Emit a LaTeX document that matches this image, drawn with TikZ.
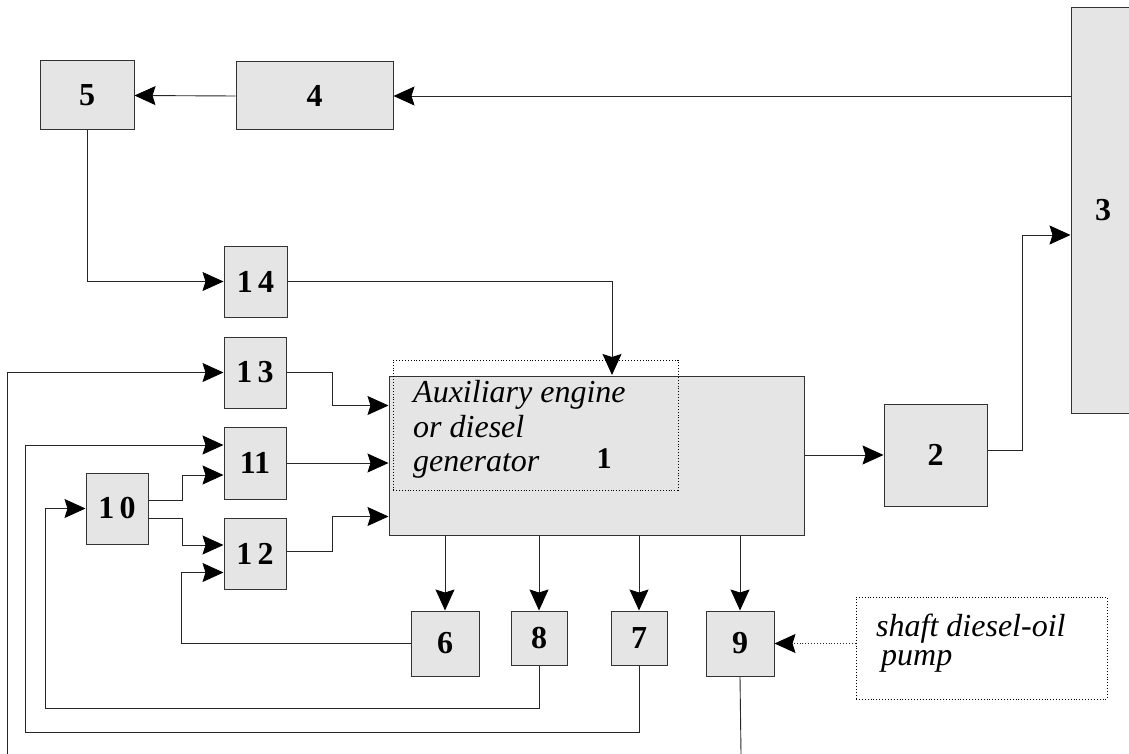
\documentclass[tikz,border=0pt]{standalone}
\usepackage{fontspec}
\setmainfont{Liberation Serif}
\usetikzlibrary{arrows.meta,calc}
\definecolor{boxfill}{HTML}{E5E5E5}
\definecolor{boxline}{HTML}{333333}
\definecolor{lineclr}{HTML}{262626}
\tikzset{
  box/.style={draw=boxline, fill=boxfill, line width=1pt, inner sep=0pt,
    font=\fontsize{32}{34}\selectfont\bfseries},
  dotbox/.style={draw=black, dotted, line width=0.9pt, inner sep=0pt},
  ln/.style={draw=lineclr, line width=0.9pt},
  arr/.style={ln, -{Stealth[length=21pt,width=19pt,inset=3pt,fill=black,color=black]}},
  itxt/.style={inner sep=0pt, font=\fontsize{32}{36}\selectfont\itshape},
}
\begin{document}
\begin{tikzpicture}[x=1pt,y=-1pt]
\useasboundingbox (0,0) rectangle (1129,754);
\clip (0,0) rectangle (1129,754);
% boxes
\node[box,minimum width=94pt,minimum height=69pt] (b5) at (87,95.5) {5};
\node[box,minimum width=157pt,minimum height=68pt] (b4) at (314.5,96) {4};
\node[box,minimum width=64pt,minimum height=405pt] (b3) at (1103,210.5) {3};
\node[box,minimum width=63pt,minimum height=71pt] (b14) at (255.5,281.5) {1\,4};
\node[box,minimum width=62pt,minimum height=71pt] (b13) at (255,372.5) {1\,3};
\node[box,minimum width=62pt,minimum height=72pt] (b11) at (255,463) {11};
\node[box,minimum width=62pt,minimum height=71pt] (b12) at (255,553.5) {1\,2};
\node[box,minimum width=62pt,minimum height=71pt] (b10) at (117,508.5) {1\,0};
\node[box,minimum width=415pt,minimum height=159pt] (b1) at (596.5,455.5) {};
\node[box,minimum width=103pt,minimum height=102pt] (b2) at (935.5,455) {2};
\node[box,minimum width=68pt,minimum height=65pt] (b6) at (445,643.5) {6};
\node[box,minimum width=56pt,minimum height=54pt] (b8) at (539,638) {8};
\node[box,minimum width=56pt,minimum height=54pt] (b7) at (639,638) {7};
\node[box,minimum width=68pt,minimum height=65pt] (b9) at (740,643.5) {9};
% label of main box
\node[dotbox,minimum width=285pt,minimum height=130pt] (lbl) at (535.5,425) {};
\node[itxt,anchor=base west] (ta) at (413,402) {Auxiliary engine};
\node[itxt,anchor=base west] (tb) at (413,437) {or diesel};
\node[itxt,anchor=base west] (tc) at (413,471) {generator};
\node[inner sep=0pt,anchor=base,font=\fontsize{30}{32}\selectfont\bfseries] (n1) at (604,468) {1};
% pump label
\node[dotbox,minimum width=251pt,minimum height=102pt] (pump) at (981.5,648) {};
\node[itxt,anchor=base west] (pa) at (876,636) {shaft diesel-oil};
\node[itxt,anchor=base west] (pb) at (881,665) {pump};
% free ends
\coordinate (in14) at (612,375);
\coordinate (c8) at (45,708);
\coordinate (c7) at (25,732);
\coordinate (src13) at (7,754);
\coordinate (out9) at (741,754);
% connectors
\draw[arr] (b3.west |- b4.east) -- (b4.east);
\draw[arr] (b4.west) -- (b5.east);
\draw[arr] (b5.south) |- (b14.west);
\draw[arr] (b14.east) -| (in14);
\draw[arr] (b13.east) -- ++(46,0) |- ($(b1.north west)+(0,30)$);
\draw[arr] (b11.east) -- (b11.east -| b1.west);
\draw[arr] ($(b12.east)+(0,-2)$) -- ++(46,0) |- ($(b1.north west)+(0,141)$);
\draw[arr] ($(b10.east)+(0,-8)$) -- ++(34,0) |- ($(b11.west)+(0,12)$);
\draw[arr] ($(b10.east)+(0,10)$) -- ++(34,0) |- ($(b12.west)+(0,-8.5)$);
\draw[arr] (b6.west) -| ($(b12.south west)+(-42,-17)$) -- ($(b12.south west)+(0,-17)$);
\draw[arr] (b6.north |- b1.south) -- (b6.north);
\draw[arr] (b8.north |- b1.south) -- (b8.north);
\draw[arr] (b7.north |- b1.south) -- (b7.north);
\draw[arr] (b9.north |- b1.south) -- (b9.north);
\draw[arr] (b8.south) |- (c8) |- (b10.west);
\draw[arr] (b7.south) |- (c7) |- ($(b11.west)+(0,-18)$);
\draw[arr] (src13) |- (b13.west);
\draw[ln] (b9.south) -- (out9);
\draw[arr,dotted] (pump.west |- b9.east) -- (b9.east);
\draw[arr] (b1.east |- b2.west) -- (b2.west);
\draw[arr] ($(b2.east)+(0,-5)$) -- ++(35,0) |- ($(b3.west)+(0,24.5)$);
\end{tikzpicture}
\end{document}
